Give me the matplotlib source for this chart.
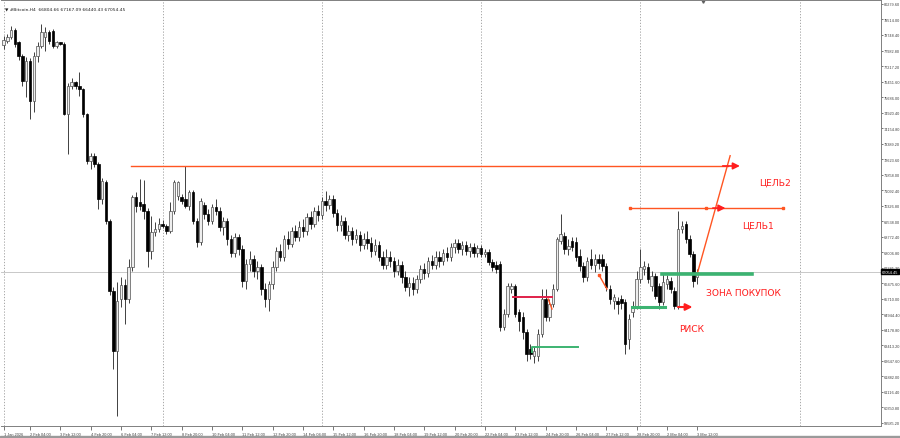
import numpy as np
import matplotlib
matplotlib.use("Agg")
import matplotlib.pyplot as plt
from matplotlib.transforms import blended_transform_factory

# ---- candles, #Bitcoin H4, bar 0 = 1 Feb 00:00 ----
opens = [78250, 78470, 78630, 79010, 78390, 77720, 76490, 77480, 75500, 77725,
         78220, 78630, 78880, 78960, 78220, 78380, 78320, 74850, 76250, 76410,
         76250, 76080, 74850, 72540, 72790, 72380, 70650, 71470, 69580, 66120,
         63160, 65700, 66400, 65710, 67290, 70750, 70500, 70400, 70070, 68100,
         69000, 69170, 69410, 69330, 69080, 70070, 70800, 70730, 70650, 70320,
         70980, 69580, 68510, 70352, 69908, 69562, 70254, 70056, 69266, 69562,
         68673, 67982, 68772, 68179, 66599, 67438, 67685, 67093, 67290, 66204,
         65710, 66450, 67290, 68080, 67784, 68673, 68426, 69068, 68772, 69266,
         69068, 69760, 69414, 70056, 69858, 70550, 70352, 70649, 69957, 69365,
         69562, 68871, 69068, 68673, 68871, 68377, 68673, 68475, 68080, 68377,
         67784, 67389, 67784, 67586, 67093, 67389, 66796, 66302, 66500, 66204,
         66697, 67191, 66994, 67586, 67389, 67784, 67586, 67982, 67784, 68278,
         68475, 68179, 68377, 68080, 68278, 67982, 68229, 67932, 68031, 67537,
         67389, 67438, 64327, 64969, 66204, 66352, 65068, 64821, 64080, 63240,
         62894, 62894, 63981, 65710, 64821, 65463, 66204, 68574, 68821, 68179,
         68574, 68525, 67833, 67340, 66796, 67685, 67389, 67685, 67685, 67340,
         66204, 65611, 65611, 65710, 65561, 63734, 65068, 65364, 66697, 67191,
         67290, 66352, 66846, 66352, 65561, 66450, 66599, 66105, 65364, 69167,
         69414, 68673, 67932, 66804.66]
highs = [78700, 78800, 79210, 79100, 78450, 77800, 77650, 77600, 77900, 78400,
         79290, 79130, 79000, 79050, 78450, 78420, 78400, 76400, 76600, 76500,
         76900, 76150, 74900, 72900, 72900, 72500, 71700, 71600, 69650, 66300,
         66550, 66800, 66700, 67700, 70850, 70980, 71640, 71600, 70200, 69820,
         69500, 69700, 69600, 69400, 70500, 71600, 71550, 70900, 72290, 71100,
         71100, 69700, 70700, 70500, 70155, 70402, 70649, 70254, 69760, 69710,
         68871, 68969, 68920, 68377, 67685, 68080, 67883, 67586, 67438, 66500,
         66599, 67586, 68278, 68426, 68871, 69068, 69266, 69365, 69562, 69661,
         69957, 70056, 70254, 70352, 70747, 71044, 70846, 70846, 70155, 69858,
         69760, 69365, 69266, 69167, 69068, 68969, 69068, 68772, 68673, 68574,
         68080, 68179, 68080, 67784, 67685, 67586, 67093, 66796, 66796, 66895,
         67389, 67488, 67784, 67883, 68080, 68080, 68179, 68278, 68475, 68673,
         68673, 68574, 68574, 68475, 68475, 68377, 68377, 68179, 68179, 67685,
         67586, 67586, 65216, 66500, 66500, 66450, 65216, 65068, 64228, 63487,
         63339, 64228, 66204, 66204, 65710, 66450, 68772, 69908, 69019, 68673,
         68772, 68772, 68179, 67537, 67784, 68179, 67932, 67932, 67932, 67488,
         66401, 65957, 65808, 65907, 65710, 64969, 65611, 67093, 68179, 67586,
         67488, 67093, 66994, 66500, 66944, 66895, 66796, 66302, 70056, 69562,
         69562, 68871, 68080, 67167.09]
lows = [78050, 78350, 78550, 78150, 77500, 76250, 75670, 74600, 74950, 77420,
        78100, 77970, 78300, 78100, 78100, 78250, 74800, 72870, 76100, 76100,
        75740, 74700, 72400, 72130, 72250, 70150, 70400, 69400, 65900, 62250,
        59950, 65300, 64480, 65500, 67100, 70000, 70100, 69660, 67290, 67690,
        68800, 69000, 69200, 68900, 68950, 69900, 70600, 70400, 70200, 70100,
        69400, 68280, 68400, 69661, 69365, 69414, 69858, 69068, 68871, 68377,
        67784, 67784, 67883, 66302, 66204, 67093, 66796, 66697, 65907, 65315,
        65117, 66204, 67093, 67586, 67586, 68179, 68278, 68574, 68574, 68772,
        68871, 69167, 69266, 69562, 69661, 70056, 70155, 69760, 69068, 69068,
        68673, 68574, 68377, 68475, 68080, 68179, 68179, 67784, 67883, 67586,
        67191, 67191, 67290, 66796, 66895, 66500, 66105, 65858, 65907, 66006,
        66500, 66697, 66796, 67191, 67191, 67290, 67389, 67586, 67586, 67982,
        67982, 67883, 67883, 67784, 67784, 67784, 67784, 67784, 67389, 67093,
        66994, 64129, 64179, 64821, 66006, 64821, 64129, 63734, 62647, 62746,
        62549, 62647, 63833, 64623, 64623, 65315, 66105, 68426, 67932, 67883,
        68080, 67586, 67093, 66549, 66599, 67191, 67043, 67191, 67093, 66105,
        65463, 65216, 64969, 65216, 62993, 63240, 64821, 65216, 66500, 66895,
        66500, 66105, 65710, 65216, 65413, 66204, 66006, 65216, 65216, 68969,
        68475, 67784, 66302, 66440.43]
closes = [78520, 78630, 79010, 78300, 77720, 76490, 77480, 75500, 77725, 78220,
          78910, 78910, 78470, 78220, 78390, 78320, 74850, 76250, 76410, 76250,
          76080, 74850, 72540, 72790, 72380, 70650, 71550, 69580, 66120, 63160,
          65625, 66400, 65700, 67290, 70750, 70320, 70320, 70070, 68100, 69000,
          69170, 69410, 69330, 69080, 70070, 71470, 71470, 70560, 70320, 70980,
          69580, 68510, 70560, 69908, 69562, 70254, 70056, 69266, 69562, 68673,
          67982, 68772, 68179, 66599, 67438, 67685, 67093, 67290, 66204, 65710,
          66450, 67290, 68080, 67784, 68673, 68426, 69068, 68772, 69266, 69068,
          69760, 69414, 70056, 69858, 70550, 70352, 70649, 69957, 69365, 69562,
          68871, 69068, 68673, 68871, 68377, 68673, 68475, 68080, 68377, 67784,
          67389, 67784, 67586, 67093, 67389, 66796, 66302, 66500, 66204, 66697,
          67191, 66994, 67586, 67389, 67784, 67586, 67982, 67784, 68278, 68475,
          68179, 68377, 68080, 68278, 67982, 68229, 67932, 68031, 67537, 67290,
          67191, 64327, 64969, 66352, 66352, 64969, 64623, 64080, 62993, 62993,
          63141, 63981, 65710, 64821, 65463, 66204, 68673, 68920, 68179, 68327,
          68278, 67784, 67340, 66796, 67586, 67389, 67685, 67488, 67340, 66302,
          65710, 65808, 65463, 65512, 63487, 64722, 65364, 66697, 67290, 67340,
          66697, 66846, 65858, 65561, 66549, 66697, 66204, 65364, 69167, 69315,
          68673, 67932, 66599, 67054.45]

# time axis labels (every 8 bars from bar 7) and weekly separators
time_label_bars = [0] + list(range(7, 184, 8))
time_labels = ["1 Jan 2026", "2 Feb 04:00", "3 Feb 12:00", "4 Feb 20:00", "6 Feb 04:00",
               "7 Feb 12:00", "8 Feb 20:00", "10 Feb 04:00", "11 Feb 12:00", "12 Feb 20:00",
               "14 Feb 04:00", "15 Feb 12:00", "16 Feb 20:00", "18 Feb 04:00", "19 Feb 12:00",
               "20 Feb 20:00", "22 Feb 04:00", "23 Feb 12:00", "24 Feb 20:00", "26 Feb 04:00",
               "27 Feb 12:00", "28 Feb 20:00", "2 Mar 04:00", "3 Mar 12:00"]
week_bars = [0, 42, 84, 126, 168, 210]

price_labels = ["80279.60", "79514.00", "78748.40", "77982.80", "77217.20", "76451.60",
                "75686.00", "74920.40", "74154.80", "73389.20", "72623.60", "71858.00",
                "71092.40", "70326.80", "69538.00", "68772.40", "68006.80", "67241.20",
                "66475.60", "65710.00", "64944.40", "64178.80", "63413.20", "62647.60",
                "61882.00", "61116.40", "60350.80", "59585.20"]
last_price = 67054.45

# drawn objects (bar index, price)
target2 = 72280
target1 = 70200
buy_zone = 66944
risk_level = 65314

ORANGE = '#ff5522'
RED = '#ff1e1e'
GREEN = '#3cb371'
AXFONT = dict(family='Liberation Sans', size=2.8)

fig = plt.figure(figsize=(9, 4.39), dpi=100)
ax = fig.add_axes([1 / 900, 12 / 439, 880 / 900, 426 / 439])
ax.set_xlim(-0.66, 231.5)
ax.set_ylim(59437, 80477)

o, h, l, c = map(np.array, (opens, highs, lows, closes))
idx = np.arange(len(c))
up = c >= o

# weekly separators + last price line
for b in week_bars:
    ax.axvline(b, color='#9a9a9a', lw=0.6, ls=(0, (1.5, 2)), zorder=0)
ax.axhline(last_price, color='#c8c8c8', lw=0.7, zorder=0)

ax.vlines(idx, l, h, color='#404040', lw=0.7, zorder=2)
body = np.maximum(np.abs(c - o), 25)
ax.bar(idx[up], body[up], bottom=o[up], width=0.66, color='#eeeeee',
       edgecolor='#505050', lw=0.5, zorder=3)
ax.bar(idx[~up], body[~up], bottom=c[~up], width=0.66, color='black',
       edgecolor='black', lw=0.5, zorder=3)

# ---- analysis objects ----
ax.plot([33.6, 191.2], [target2, target2], color=ORANGE, lw=1, zorder=4)
ax.annotate('', xy=(195, target2), xytext=(189, target2),
            arrowprops=dict(arrowstyle='-|>', color=RED, lw=1.2, mutation_scale=10), zorder=5)

ax.plot([165.3, 205.6], [target1, target1], color=ORANGE, lw=1, zorder=4)
ax.plot([165.3, 185.4, 205.6], [target1] * 3, ls='none', marker='s', ms=2,
        color=ORANGE, zorder=4)
ax.annotate('', xy=(191.2, target1), xytext=(186.4, target1),
            arrowprops=dict(arrowstyle='-|>', color=RED, lw=1.2, mutation_scale=10), zorder=5)

ax.plot([183, 191.7], [buy_zone, 72785], color=ORANGE, lw=1, zorder=4)

ax.plot([173.8, 197.5], [buy_zone, buy_zone], color=GREEN, lw=2.6, zorder=4)
ax.plot([165.8, 174.5], [risk_level, risk_level], color=GREEN, lw=2.2, zorder=4)
ax.annotate('', xy=(182.5, risk_level), xytext=(177.2, risk_level),
            arrowprops=dict(arrowstyle='-|>', color=RED, lw=1.5, mutation_scale=10), zorder=5)

ax.plot([139.4, 139.4, 151.6], [63100, 63339, 63339], color=GREEN, lw=1.4, zorder=4)
ax.plot([134.4, 144.7], [65808, 65808], color='#e0204a', lw=1.4, zorder=4)
ax.plot([143.7, 144.7], [65710, 65216], color=ORANGE, lw=1, zorder=4)
ax.plot([157.1, 159.2], [66895, 66204], color=ORANGE, lw=1, zorder=4)
ax.plot([157.1], [66895], marker='s', ms=2, color=ORANGE, zorder=4)

txt = dict(color=RED, fontsize=6.6, va='center', ha='left', zorder=6)
ax.text(199.3, 71488, "ЦЕЛЬ2", **txt)
ax.text(194.9, 69365, "ЦЕЛЬ1", **txt)
ax.text(185.4, 66055, "ЗОНА ПОКУПОК", **txt)
ax.text(178.2, 64277, "РИСК", **txt)

# chart header and shift marker
ax.text(0.004, 0.985, "\u25BC #Bitcoin,H4  66804.66 67167.09 66440.43 67054.45",
        transform=ax.transAxes, fontsize=3.2, va='top', ha='left', color='#202020')
ax.plot([184.6], [80420], marker='v', ms=2.5, color='#606060', clip_on=False)

# ---- axes ----
ax.spines['left'].set_visible(False)
for side in ('top', 'right', 'bottom'):
    ax.spines[side].set_color('#808080')
    ax.spines[side].set_linewidth(0.7)

ax.yaxis.tick_right()
ax.set_yticks([float(v) for v in price_labels])
ax.set_yticklabels(price_labels, color='#303030', fontdict=AXFONT)
ax.tick_params(axis='y', length=1.5, width=0.5, pad=0.6, colors='#404040')

ax.set_xticks(time_label_bars)
ax.set_xticklabels(time_labels, color='#303030', fontdict=AXFONT)
for lab in ax.get_xticklabels():
    lab.set_horizontalalignment('left')
ax.tick_params(axis='x', length=3, width=0.5, pad=1.5, colors='#404040')

tr = blended_transform_factory(ax.transAxes, ax.transData)
ax.text(1.001, last_price, "67054.45", transform=tr, color='white',
        va='center', ha='left', fontdict=AXFONT,
        bbox=dict(boxstyle='square,pad=0.12', fc='black', ec='black'))

fig.patches.append(plt.Rectangle((0, 0), 1, 2 / 439, transform=fig.transFigure,
                                 color='#9a9a9a', zorder=0))

fig.savefig("out.png", dpi=100)
